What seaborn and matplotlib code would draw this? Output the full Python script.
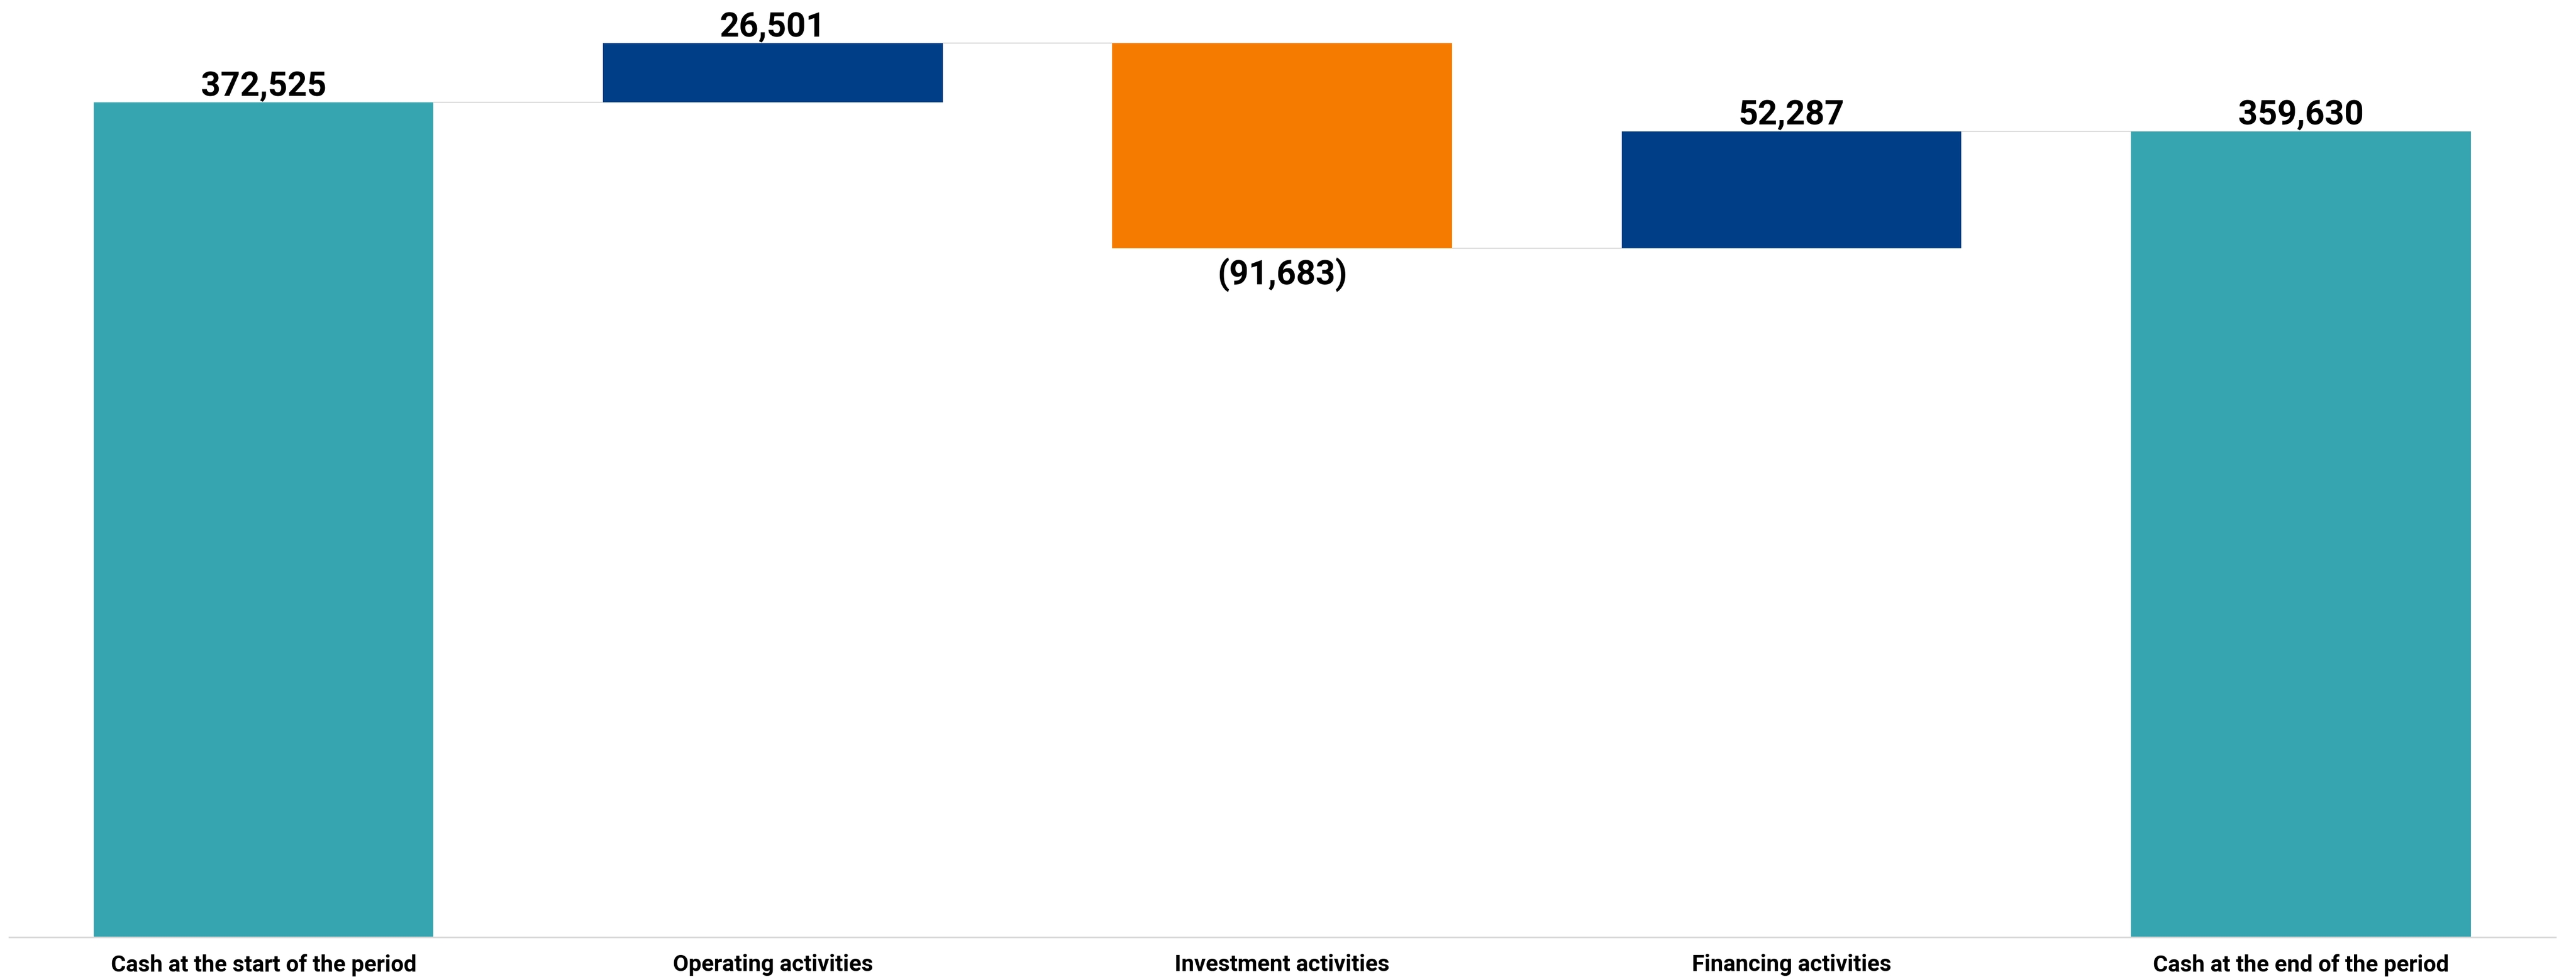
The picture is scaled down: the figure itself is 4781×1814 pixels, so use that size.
import matplotlib
matplotlib.use("Agg")
import matplotlib.pyplot as plt
import seaborn as sns
import numpy as np

# Chart data
categories = [
    "Cash at the start of the period",
    "Operating activities",
    "Investment activities",
    "Financing activities",
    "Cash at the end of the period",
]
values = [372525, 26501, -91683, 52287, 359630]
is_total = [True, False, False, False, True]
colors = ["#36A5B0", "#003F87", "#F47B00", "#003F87", "#36A5B0"]

# Waterfall geometry from the values
bottoms = []
heights = []
running = 0
for v, tot in zip(values, is_total):
    if tot:
        bottoms.append(0)
        heights.append(v)
        running = v
    else:
        start = running
        running = running + v
        bottoms.append(min(start, running))
        heights.append(abs(v))
levels = [b + h if (v >= 0) else b for b, h, v in zip(bottoms, heights, values)]

sns.set_theme(style="white")
plt.rcParams["font.family"] = ["Roboto", "DejaVu Sans"]

W, H = 4781, 1815
fig = plt.figure(figsize=(W / 100, H / 100), dpi=100)
ymax = 425000
px_per_unit = 1550 / 372525
ax = fig.add_axes([16.5 / W, (H - 1741) / H, (4743 - 16.5) / W, ymax * px_per_unit / H])

sns.barplot(x=categories, y=heights, bottom=bottoms, width=0.667, color=colors[0],
            saturation=1, linewidth=0, ax=ax)
for patch, c in zip(ax.patches, colors):
    patch.set_facecolor(c)
    patch.set_edgecolor("none")

ax.set_xlim(-0.5, len(categories) - 0.5)
ax.set_ylim(0, ymax)

# connectors between bars
half = 0.667 / 2
for i in range(len(categories) - 1):
    lvl = bottoms[i] + heights[i] if values[i] >= 0 or is_total[i] else bottoms[i]
    ax.plot([i + half, i + 1 - half], [lvl, lvl], color="#DADADA", lw=1.6,
            solid_capstyle="butt", zorder=0)

# value labels
for i, (v, b, h) in enumerate(zip(values, bottoms, heights)):
    if v >= 0:
        ax.annotate(f"{v:,}", xy=(i, b + h), xytext=(0, 9.4), textcoords="offset points",
                    ha="center", va="baseline", fontsize=45.5, fontweight="bold",
                    color="black", annotation_clip=False)
    else:
        ax.annotate(f"({abs(v):,})", xy=(i, b), xytext=(0, -47.5), textcoords="offset points",
                    ha="center", va="baseline", fontsize=45.5, fontweight="bold",
                    color="black", annotation_clip=False)

ax.set_yticks([])
ax.set_ylabel("")
ax.tick_params(axis="x", length=0, pad=21.6, labelsize=30.5)
for lab in ax.get_xticklabels():
    lab.set_fontweight("bold")
    lab.set_color("black")

for s in ["top", "right", "left"]:
    ax.spines[s].set_visible(False)
ax.spines["bottom"].set_color("#D9D9D9")
ax.spines["bottom"].set_linewidth(2.2)

fig.savefig("out.png", dpi=100, facecolor="white")
